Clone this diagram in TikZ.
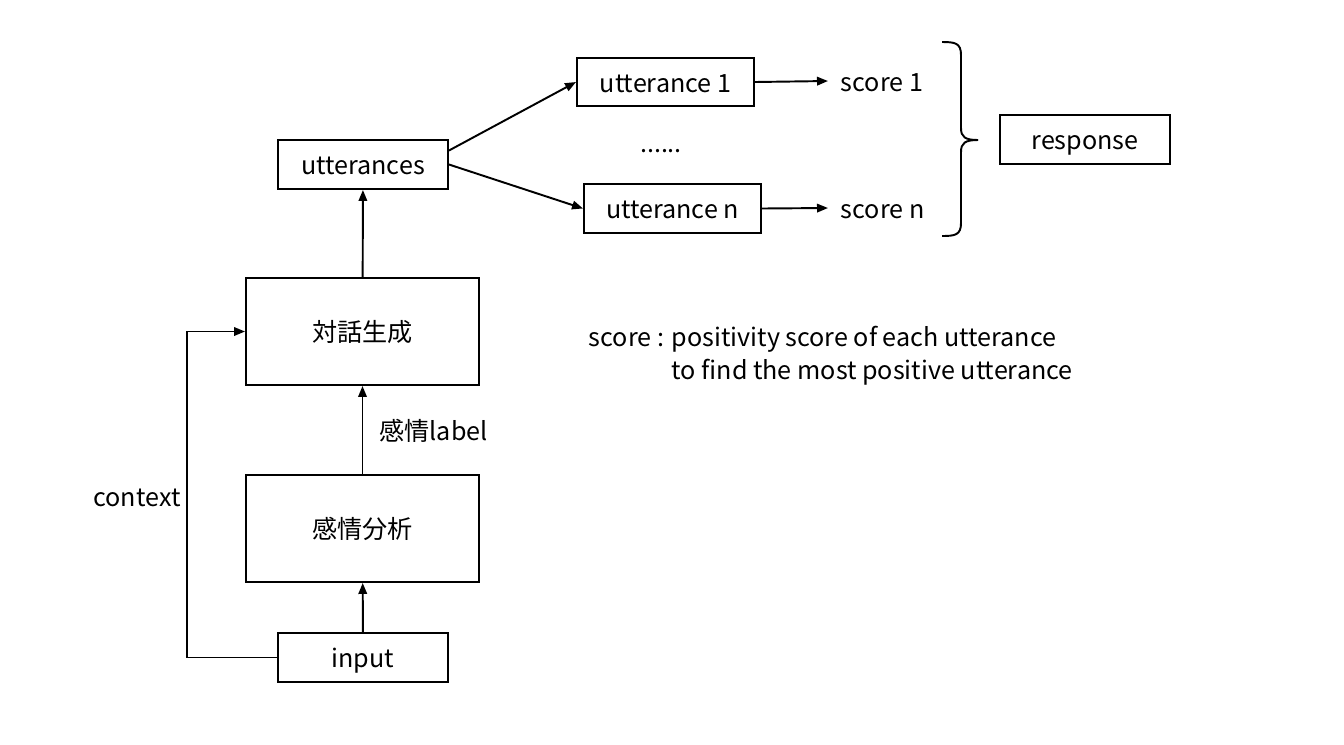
\documentclass[tikz,border=0pt]{standalone}
\usepackage{fontspec}
\setmainfont{Noto Sans CJK JP}
\usetikzlibrary{arrows.meta}

\begin{document}
\begin{tikzpicture}[
    line width=1.1pt,
    every node/.style={font=\fontsize{14.3}{19}\selectfont},
    txt/.style={text height=14.4pt, text depth=3pt},
    box/.style={draw, line width=1.1pt, inner sep=0pt, txt},
    smallbox/.style={box, minimum width=3.4cm, minimum height=0.98cm},
    bigbox/.style={box, minimum width=4.66cm, minimum height=2.14cm},
    flow/.style={-{Triangle[length=2.2mm, width=1.7mm]}},
  ]
    \useasboundingbox (0,0) rectangle (26.88,-14.88);

    % === left column: input -> analysis -> generation ===
    \node[smallbox] (input) at (7.26, -13.15) {input};
    \node[bigbox] (kanjo) at (7.25, -10.57) {感情分析};
    \node[bigbox] (taiwa) at (7.25, -6.63) {対話生成};
    \node[smallbox] (utts) at (7.26, -3.29) {utterances};

    \draw[flow] (input) -- (kanjo);
    \draw[flow] (kanjo) -- (taiwa)
      node[pos=0.5, anchor=west, inner sep=0pt, xshift=0.32cm, txt] (lbl) {感情label};
    \draw[flow] (taiwa) -- (utts);

    % context loop
    \coordinate (cbot) at (3.74, -13.15);
    \coordinate (ctop) at (3.74, -6.63);
    \draw[flow] (input.west) -- (cbot) -- (ctop) -- (taiwa.west);
    \node[txt] (ctx) at (2.74, -9.92) {context};

    % === candidate utterances and scores ===
    \node[box, minimum width=3.54cm, minimum height=0.96cm] (utt1) at (13.31, -1.64) {utterance 1};
    \node[box, minimum width=3.54cm, minimum height=0.98cm] (uttn) at (13.45, -4.17) {utterance n};
    \node[anchor=base] (dots) at (13.22, -3.04) {......};

    \draw[flow] ([yshift=0.28cm]utts.east) -- (utt1.west);
    \draw[flow] (utts.east) -- (uttn.west);

    \node[anchor=west, inner xsep=0.24cm, inner ysep=0pt, txt] (s1) at (16.56, -1.62) {score 1};
    \node[anchor=west, inner xsep=0.24cm, inner ysep=0pt, txt] (sn) at (16.56, -4.16) {score n};
    \draw[flow] (utt1.east) -- (s1.west);
    \draw[flow] (uttn.east) -- (sn.west);

    % brace collecting the scores
    \draw (18.84, -0.84) .. controls (19.1, -0.84) and (19.22, -0.86) .. (19.22, -1.1)
      -- (19.22, -2.56) .. controls (19.22, -2.74) and (19.3, -2.8) .. (19.56, -2.8);
    \draw (18.84, -4.72) .. controls (19.1, -4.72) and (19.22, -4.7) .. (19.22, -4.46)
      -- (19.22, -3.04) .. controls (19.22, -2.86) and (19.3, -2.8) .. (19.56, -2.8);

    \node[smallbox] (resp) at (21.7, -2.79) {response};

    % note on the score
    \node[anchor=north west, align=left, inner sep=0pt] (note) at (11.76, -6.5)
      {score : positivity score of each utterance\\
       \hphantom{score : }to find the most positive utterance};
\end{tikzpicture}
\end{document}
